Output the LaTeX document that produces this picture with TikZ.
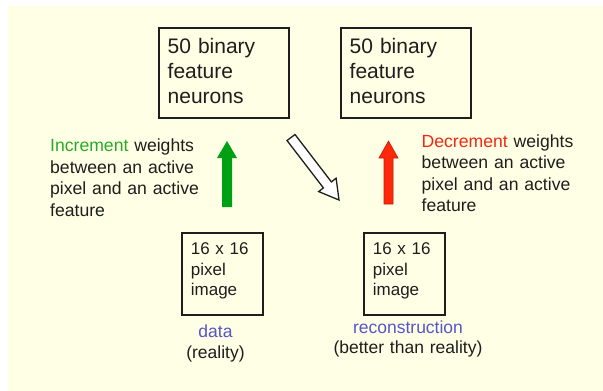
\documentclass[tikz,border=0pt]{standalone}
\usepackage{fontspec}
\setmainfont{Liberation Sans}
\definecolor{cream}{RGB}{255,255,229}
\definecolor{inkblack}{RGB}{30,30,30}
\definecolor{incgreen}{RGB}{40,170,40}
\definecolor{decred}{RGB}{240,40,20}
\definecolor{lblblue}{RGB}{85,85,200}
\definecolor{upgreen}{RGB}{0,160,20}
\definecolor{upred}{RGB}{255,40,10}
\definecolor{upredline}{RGB}{190,30,10}
\begin{document}
\begin{tikzpicture}[x=1pt,y=-1pt,
  unitbox/.style={draw=inkblack, line width=1.4pt, rectangle, inner sep=0pt},
  bigtext/.style={text=inkblack, font=\fontsize{21}{25}\selectfont, align=left,
    text width=116pt, inner sep=0pt, anchor=base west},
  pixtext/.style={text=inkblack, font=\fontsize{17}{20.5}\selectfont, align=left,
    text width=70pt, inner sep=0pt, anchor=base west},
  sidetext/.style={text=inkblack, font=\fontsize{17.6}{21.5}\selectfont, align=left,
    text width=170pt, inner sep=0pt, anchor=base west},
  captext/.style={text=inkblack, font=\fontsize{17.5}{20.5}\selectfont, align=center,
    text width=180pt, inner sep=0pt, anchor=base},
]
\useasboundingbox (0,0) rectangle (603,391);
\fill[white] (0,0) rectangle (603,391);
\fill[cream] (8,6) rectangle (603,391);

% hidden layer boxes
\node[unitbox, minimum width=130pt, minimum height=90pt] (hidA) at (224,73) {};
\node[unitbox, minimum width=130pt, minimum height=90pt] (hidB) at (406,73) {};
\node[bigtext] (hidAtxt) at (167.5,53.3) {50 binary\\feature\\neurons};
\node[bigtext] (hidBtxt) at (349.5,53.3) {50 binary\\feature\\neurons};

% visible layer boxes
\node[unitbox, minimum width=81pt, minimum height=82pt] (visA) at (222.5,274) {};
\node[unitbox, minimum width=81pt, minimum height=82pt] (visB) at (404.5,274) {};
\node[pixtext] (visAtxt) at (190.7,254.7) {16 x 16\\pixel\\image};
\node[pixtext] (visBtxt) at (372.7,254.7) {16 x 16\\pixel\\image};

% captions under the images
\node[captext] (capA) at (215.5,337.5) {\textcolor{lblblue}{data}\\(reality)};
\node[captext] (capB) at (408,333) {\textcolor{lblblue}{reconstruction}\\(better than reality)};

% learning rule texts
\node[sidetext] (incTxt) at (50,151.5)
  {\textcolor{incgreen}{Increment} weights\\between an active\\pixel and an active\\feature};
\node[sidetext] (decTxt) at (421.5,147)
  {\textcolor{decred}{Decrement} weights\\between an active\\pixel and an active\\feature};

% block arrows
\fill[upgreen] (222,207) -- (222,158) -- (217,158) -- (227,141) -- (237,158)
  -- (232,158) -- (232,207) -- cycle;
\filldraw[fill=upred, draw=upredline, line width=0.6pt]
  (384,204) -- (384,158) -- (379,158) -- (388.5,141) -- (398,158)
  -- (393,158) -- (393,204) -- cycle;
\filldraw[fill=white, draw=inkblack, line width=1.3pt, line join=miter]
  (295,134.5) -- (331.4,181.9) -- (336.1,178.2) -- (339,200) -- (318.7,191.6)
  -- (323.4,187.9) -- (287,140.5) -- cycle;
\end{tikzpicture}
\end{document}
